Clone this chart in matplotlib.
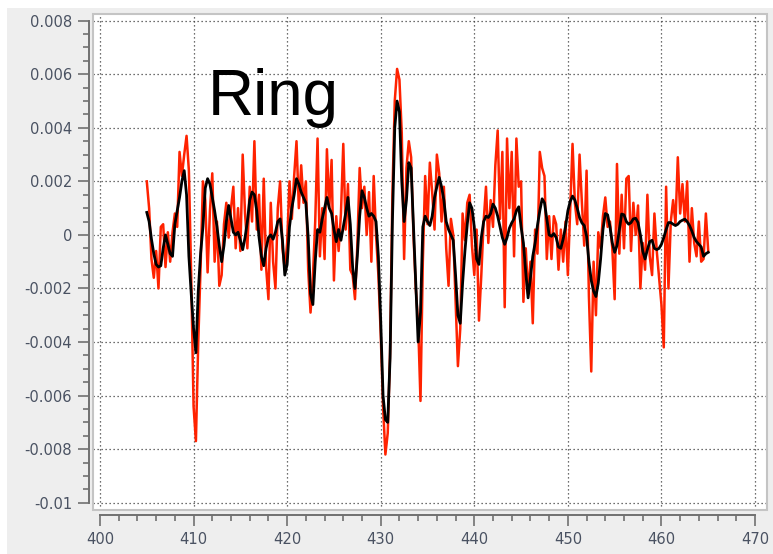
import numpy as np
import matplotlib
matplotlib.use("Agg")
import matplotlib.pyplot as plt
from matplotlib.patches import Rectangle
from matplotlib.ticker import MultipleLocator, FuncFormatter

# ---------------- data (values in units of 1e-3) ----------------
x_start = 405.0
x_step = 0.25

raw_signal = [
    # 405.00 - 415.00
    2.0, 1.0, -0.9, -1.6, -0.6, -2.0, 0.3, 0.4, -1.2, 0.1,
    -1.0, 0.1, 0.8, 0.3, 3.1, 2.2, 3.0, 3.7, 2.4, -1.6,
    -6.4, -7.7, -4.0, -1.2, 2.0, 1.3, -1.4, 0.9, 2.3, -1.0,
    0.5, -1.9, -1.5, 0.4, 1.2, -0.1, 1.0, 1.8, -0.5, 1.0,
    -0.6,
    # 415.25 - 425.00
    3.0, 0.8, -0.5, 1.8, 0.5, 3.5, 0.2, 1.5, -1.3, 2.1,
    -1.2, -2.4, 1.2, -1.0, -2.0, 1.0, 2.0, -0.5, -1.3, -0.3,
    2.0, 0.6, 2.2, 3.5, 1.0, 2.6, 1.2, 2.0, -1.3, -2.9,
    -1.6, 0.5, 3.6, -0.8, 1.0, -0.9, 3.2, 1.0, 2.8, -1.7,
    # 425.25 - 435.00
    0.7, -0.6, 0.8, 3.4, 0.2, 1.9, -1.3, -1.5, -2.4, -0.4,
    2.5, 1.0, 1.8, 0.0, 1.6, -1.0, 2.2, 0.0, -1.5, -3.7,
    -6.4, -8.2, -7.4, -4.4, 1.5, 5.0, 6.2, 5.8, 3.8, -0.9,
    2.5, 3.5, 2.9, 0.0, -2.0, -3.3, -6.2, -1.0, 2.2, 0.4,
    # 435.25 - 445.00
    2.7, 1.6, 0.2, 3.0, 2.3, 0.5, 1.8, -0.5, -1.9, 0.6,
    0.0, -2.5, -4.9, -3.5, 0.8, -0.2, 1.2, 1.5, -0.4, -1.5,
    0.2, -3.2, -1.5, 0.5, 1.8, -0.3, 1.3, 0.3, 2.6, 3.9,
    0.6, 3.1, -2.7, 3.6, 1.0, 3.1, -0.8, 3.6, 1.8, 2.0,
    # 445.25 - 455.00
    -2.5, -0.5, -2.2, -1.0, -3.3, 0.2, -0.7, 3.1, 2.5, 2.2,
    -0.9, 0.7, -0.9, 0.7, 0.4, -1.3, 0.2, -1.0, 0.5, -1.5,
    1.0, 3.4, 1.2, 0.4, 3.0, 1.2, -0.4, 2.4, -2.3, -5.1,
    -1.0, -3.0, 0.1, -0.5, 0.7, 1.4, 0.3, 0.5, -0.5, -2.4,
    # 455.25 - 465.00
    2.65, -0.7, 1.5, -0.5, 2.1, 2.2, -0.6, 1.2, 0.0, 1.1,
    -2.0, -0.3, -1.3, 1.5, -0.8, -1.5, 0.8, -0.6, -1.6, -2.6,
    -4.2, 1.8, -2.0, 0.5, 1.3, 0.4, 2.9, 0.8, 1.9, 0.5,
    2.0, -1.0, 1.0, -0.3, -0.8, 0.5, -1.0, -0.9, 0.8, -0.6,
]

smoothed_signal = [
    # 405.00 - 415.00
    0.84, 0.5, -0.16, -0.7, -1.1, -1.2, -1.15, -0.5, 0.0, -0.35,
    -0.7, -0.8, 0.4, 0.9, 1.4, 2.0, 2.4, 1.5, -0.8, -2.2,
    -3.5, -4.4, -2.1, -0.7, 0.3, 1.75, 2.1, 1.9, 1.4, 0.9,
    0.3, -0.4, -1.0, -0.4, 0.5, 1.1, 0.6, 0.1, 0.0, 0.1,
    -0.2,
    # 415.25 - 425.00
    -0.55, -0.1, 0.5, 1.3, 1.6, 1.5, 0.9, -0.1, -0.8, -1.15,
    -0.5, -0.1, 0.0, -0.16, 0.1, 0.5, 0.6, -0.2, -1.5, -1.1,
    0.3, 1.0, 1.5, 2.1, 1.9, 1.6, 1.4, 1.2, -0.1, -2.2,
    -2.6, -1.0, 0.2, 0.1, 0.6, 1.0, 1.4, 1.0, 0.8, 0.2,
    # 425.25 - 435.00
    -0.25, 0.2, -0.2, 0.3, 0.8, 1.4, 0.4, -1.2, -2.0, -0.8,
    0.7, 1.65, 1.4, 1.0, 0.7, 0.8, 0.7, 0.5, -0.8, -3.2,
    -6.0, -6.9, -7.0, -4.6, 0.5, 4.0, 5.0, 4.6, 2.0, 0.5,
    1.3, 2.7, 2.5, 0.3, -1.9, -4.0, -2.9, 0.3, 0.7, 0.5,
    # 435.25 - 445.00
    0.35, 0.7, 1.4, 1.8, 2.15, 1.8, 1.3, 0.5, 0.2, 0.0,
    -0.2, -1.5, -3.0, -3.3, -1.8, -0.6, 0.4, 1.2, 1.0, 0.3,
    -0.9, -1.1, -0.1, 0.5, 0.7, 0.65, 0.8, 1.15, 1.0, 0.7,
    0.3, -0.1, -0.35, -0.1, 0.25, 0.45, 0.6, 0.9, 1.05, 0.3,
    # 445.25 - 455.00
    -0.3, -1.4, -2.35, -1.6, -0.8, -0.3, 0.35, 0.9, 1.35, 1.2,
    0.6, 0.0, -0.05, 0.05, -0.1, -0.45, -0.5, -0.15, 0.3, 0.9,
    1.25, 1.45, 1.3, 1.0, 0.65, 0.45, 0.35, -0.05, -1.0, -1.7,
    -2.1, -2.3, -1.8, -0.9, 0.2, 0.8, 0.75, 0.3, -0.3, -0.65,
    # 455.25 - 465.00
    -0.4, 0.2, 0.78, 0.75, 0.5, 0.4, 0.46, 0.6, 0.62, 0.46,
    0.0, -0.6, -0.9, -0.55, -0.25, -0.2, -0.5, -0.55, -0.5, -0.35,
    -0.1, 0.2, 0.46, 0.46, 0.4, 0.35, 0.4, 0.5, 0.55, 0.59,
    0.5, 0.35, 0.15, -0.1, -0.25, -0.35, -0.45, -0.8, -0.7, -0.65,
]

x_major_ticks = [400, 410, 420, 430, 440, 450, 460, 470]
y_major_ticks = [-0.01, -0.008, -0.006, -0.004, -0.002, 0, 0.002, 0.004, 0.006, 0.008]
title_text = "Ring"

# ---------------- figure ----------------
W, H = 773, 554
fig = plt.figure(figsize=(W / 100, H / 100), dpi=100)
fig.patch.set_facecolor("white")
fig.patches.append(Rectangle((7 / W, 0), 1 - 7 / W, 1 - 8 / H,
                             transform=fig.transFigure, facecolor="#eeeeee",
                             edgecolor="none", zorder=-10))

left_px, right_px, top_px, bot_px = 93, 767, 14, 510
ax = fig.add_axes([left_px / W, 1 - bot_px / H,
                   (right_px - left_px) / W, (bot_px - top_px) / H])
ax.set_facecolor("white")

x_r = x_start + x_step * np.arange(len(raw_signal))
x_s = x_start + x_step * np.arange(len(smoothed_signal))
ax.plot(x_r, np.array(raw_signal) * 1e-3, color="#ff2200", lw=1.8, zorder=3)
ax.plot(x_s, np.array(smoothed_signal) * 1e-3, color="black", lw=2.0, zorder=4)

ppx = 9.36      # px per x unit
ppy = 26780.0   # px per y unit
ax.set_xlim(400 - 7 / ppx, 470 + 12 / ppx)
ax.set_ylim(-0.01 - 7.3 / ppy, 0.008 + 6.7 / ppy)

ax.set_xticks(x_major_ticks)
ax.set_yticks(y_major_ticks)
ax.xaxis.set_minor_locator(MultipleLocator(2))
ax.yaxis.set_minor_locator(MultipleLocator(0.0005))


def yfmt(v, pos):
    if abs(v) < 1e-12:
        return "0"
    s = f"{v:.3f}"
    if s.endswith("0") and abs(v) >= 0.01 - 1e-12:
        s = f"{v:.2f}"
    return s


ax.yaxis.set_major_formatter(FuncFormatter(yfmt))

ax.grid(True, which="major", color="#404040", linestyle=(0, (1, 2.2)), lw=0.9)
ax.set_axisbelow(True)

for s in ["top", "right"]:
    ax.spines[s].set_visible(False)
ax.spines["left"].set_position(("outward", 3))
ax.spines["bottom"].set_position(("outward", 3.6))
ax.spines["left"].set_bounds(-0.01, 0.008)
ax.spines["bottom"].set_bounds(400, 470)
for s in ["left", "bottom"]:
    ax.spines[s].set_color("#707070")
    ax.spines[s].set_linewidth(1.4)

ax.tick_params(which="major", direction="out", length=8, width=1.2,
               color="#707070", labelsize=10.6, labelcolor="#4a5262", pad=4)
ax.tick_params(which="minor", direction="out", length=4.5, width=1.2,
               color="#707070")

# canvas frame
ax.add_patch(Rectangle((0, 0), 1, 1, transform=ax.transAxes, fill=False,
                       edgecolor="#c4c4c4", lw=1.5, zorder=5, clip_on=False))

fig.text(208 / W, 1 - 115 / H, title_text, fontsize=46,
         family="Liberation Sans", color="black", ha="left", va="baseline")

fig.savefig("out.png", dpi=100)
